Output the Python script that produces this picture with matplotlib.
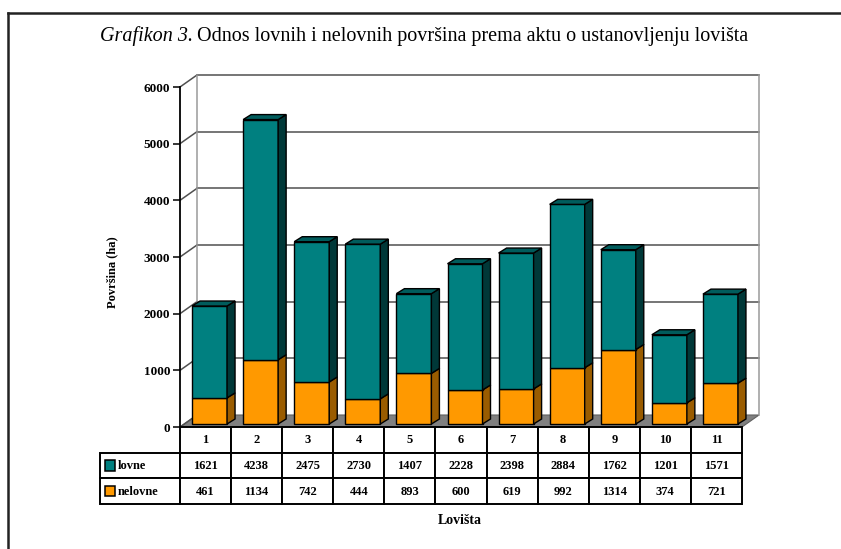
import matplotlib.pyplot as plt
from matplotlib.patches import Rectangle, Polygon
from matplotlib.lines import Line2D

plt.rcParams['font.family'] = ['Liberation Serif', 'DejaVu Serif']

lovista = ['1', '2', '3', '4', '5', '6', '7', '8', '9', '10', '11']
lovne = [1621, 4238, 2475, 2730, 1407, 2228, 2398, 2884, 1762, 1201, 1571]
nelovne = [461, 1134, 742, 444, 893, 600, 619, 992, 1314, 374, 721]
yticks = [0, 1000, 2000, 3000, 4000, 5000, 6000]

W, H = 841, 549
fig = plt.figure(figsize=(W / 100, H / 100), dpi=100)
ax = fig.add_axes([180 / W, 122 / H, 562 / W, 340 / H])
n = len(lovista)
ax.set_xlim(-0.5, n - 0.5)
ax.set_ylim(0, 6000)

# pixel -> data units
PX = n / 562
PY = 6000 / 340
WX, WY = 17 * PX, 12 * PY      # depth of the floor / walls
FX, FY = 4 * PX, 3 * PY        # bar front plane
BX, BY = 8 * PX, 5 * PY        # bar depth
bw = 35 * PX

grid_c = '#505050'
# floor
ax.add_patch(Polygon([(-0.5, 0), (n - 0.5, 0), (n - 0.5 + WX, WY), (-0.5 + WX, WY)],
                     closed=True, facecolor='#808080', edgecolor='#606060', lw=0.8,
                     clip_on=False, zorder=1))
# walls
for v in yticks[1:]:
    ax.add_line(Line2D([-0.5 + WX, n - 0.5 + WX], [v + WY, v + WY], color=grid_c, lw=1.1,
                       clip_on=False, zorder=1))
for v in yticks:
    ax.add_line(Line2D([-0.5, -0.5 + WX], [v, v + WY], color=grid_c, lw=1.1,
                       clip_on=False, zorder=1))
for xe in (-0.5 + WX, n - 0.5 + WX):
    ax.add_line(Line2D([xe, xe], [WY, 6000 + WY], color='#9a9a9a', lw=1.1,
                       clip_on=False, zorder=1))

colors = {'lovne': ('#008080', '#005c5c', '#003838'),
          'nelovne': ('#FF9900', '#b36b00', '#9a5c00')}

for i in range(n):
    x0 = i - bw / 2 + FX
    x1 = i + bw / 2 + FX
    segs = [(0, nelovne[i], 'nelovne'), (nelovne[i], nelovne[i] + lovne[i], 'lovne')]
    for y0, y1, key in segs:
        front, top, side = colors[key]
        ax.add_patch(Rectangle((x0, y0 + FY), x1 - x0, y1 - y0, facecolor=front,
                               edgecolor='black', lw=1, clip_on=False, zorder=3))
        ax.add_patch(Polygon([(x1, y0 + FY), (x1 + BX, y0 + FY + BY), (x1 + BX, y1 + FY + BY),
                              (x1, y1 + FY)], closed=True, facecolor=side,
                             edgecolor='black', lw=1, clip_on=False, zorder=3))
    yt = nelovne[i] + lovne[i] + FY
    ax.add_patch(Polygon([(x0, yt), (x1, yt), (x1 + BX, yt + BY), (x0 + BX, yt + BY)],
                         closed=True, facecolor=colors['lovne'][1], edgecolor='black',
                         lw=1, clip_on=False, zorder=3))

for s in ['top', 'right', 'bottom']:
    ax.spines[s].set_visible(False)
ax.spines['left'].set_linewidth(1.3)
ax.spines['left'].set_zorder(4)
ax.set_xticks([])
ax.set_yticks(yticks)
ax.tick_params(axis='y', length=5, width=1.1, pad=2)
for lab in ax.get_yticklabels():
    lab.set_fontweight('bold')
    lab.set_fontsize(9.5)
ax.patch.set_visible(False)

# data table
tax = fig.add_axes([100 / W, 45 / H, 642 / W, 77 / H])
xl = -0.5 - 80 * PX
tax.set_xlim(xl, n - 0.5)
tax.set_ylim(3, 0)
tax.axis('off')
tl = 1.4
fs = 9
rows = [('lovne', lovne), ('nelovne', nelovne)]
for i in range(n):
    tax.add_patch(Rectangle((i - 0.5, 0), 1, 1, facecolor='white', edgecolor='black',
                            lw=tl, clip_on=False))
    tax.text(i, 0.5, lovista[i], ha='center', va='center', fontsize=fs, fontweight='bold')
for r, (name, vals) in enumerate(rows, start=1):
    tax.add_patch(Rectangle((xl, r), -0.5 - xl, 1, facecolor='white', edgecolor='black',
                            lw=tl, clip_on=False))
    tax.add_patch(Rectangle((xl + 5 * PX, r + 0.3), 10 * PX, 0.4,
                            facecolor=colors[name][0], edgecolor='black', lw=1.1,
                            clip_on=False))
    tax.text(xl + 18 * PX, r + 0.52, name, ha='left', va='center', fontsize=fs,
             fontweight='bold')
    for i in range(n):
        tax.add_patch(Rectangle((i - 0.5, r), 1, 1, facecolor='white', edgecolor='black',
                                lw=tl, clip_on=False))
        tax.text(i, r + 0.52, str(vals[i]), ha='center', va='center', fontsize=fs,
                 fontweight='bold')

fig.text(112 / W, 1 - 272 / H, 'Površina (ha)', rotation=90, ha='center', va='center',
         fontsize=9, fontweight='bold')
fig.text(460 / W, 1 - 521 / H, 'Lovišta', ha='center', va='center', fontsize=10,
         fontweight='bold')

# title
t1 = fig.text(100 / W, 1 - 36 / H, 'Grafikon 3.', style='italic', ha='left',
              va='center', fontsize=14.5)
fig.canvas.draw()
bb = t1.get_window_extent()
fig.text((bb.x1 + 4) / W, 1 - 36 / H,
         'Odnos lovnih i nelovnih površina prema aktu o ustanovljenju lovišta',
         ha='left', va='center', fontsize=14.5)

# frame
fig.add_artist(Line2D([8 / W, 1], [1 - 13 / H, 1 - 13 / H], transform=fig.transFigure,
                      color='#222222', lw=1.8))
fig.add_artist(Line2D([8 / W, 8 / W], [1 - 13 / H, 0], transform=fig.transFigure,
                      color='#222222', lw=1.8))

fig.savefig('out.png', dpi=100)
